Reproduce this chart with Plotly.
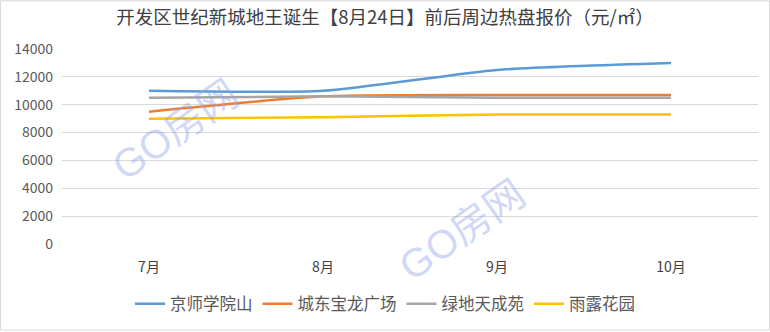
import plotly.graph_objects as go

months = ["7月", "8月", "9月", "10月"]
series_names = ["京师学院山", "城东宝龙广场", "绿地天成苑", "雨露花园"]
jingshi = [11000, 11000, 12500, 13000]
chengdong = [9500, 10600, 10700, 10700]
lvdi = [10500, 10600, 10500, 10500]
yulu = [9000, 9100, 9300, 9300]
y_ticks = [0, 2000, 4000, 6000, 8000, 10000, 12000, 14000]
colors = ["#5B9BD5", "#ED7D31", "#A5A5A5", "#FFC000"]

W, H = 770, 332
L, R, T, B = 62, 12, 49, 87
pw, ph = W - L - R, H - T - B

fig = go.Figure()
for name, vals, c in zip(series_names, [jingshi, chengdong, lvdi, yulu], colors):
    fig.add_trace(go.Scatter(x=months, y=vals, name=name, mode="lines",
                             line=dict(color=c, width=2.5, shape="spline", smoothing=0.6)))

font_cjk = "Noto Sans CJK SC, Microsoft YaHei, sans-serif"
fig.update_layout(
    width=W, height=H,
    margin=dict(l=L, r=R, t=T, b=B),
    paper_bgcolor="white", plot_bgcolor="white",
    font=dict(family=font_cjk, color="#595959", size=13),
    title=dict(text="开发区世纪新城地王诞生【8月24日】前后周边热盘报价（元/㎡）",
               x=0.5, xanchor="center", y=1 - 18 / H, yanchor="middle", yref="container",
               font=dict(size=18.5, color="#404040", family=font_cjk)),
    xaxis=dict(range=[-0.5, 3.5], showgrid=False, showline=False, zeroline=False,
               ticks="", ticklabelstandoff=13, tickfont=dict(size=14, color="#404040")),
    yaxis=dict(range=[0, 14000], tickvals=y_ticks, ticktext=[str(v) for v in y_ticks],
               showgrid=True, gridcolor="#D9D9D9",
               gridwidth=1, zeroline=False, showline=False, ticks="", ticklabelstandoff=8,
               tickfont=dict(size=14, color="#595959")),
    legend=dict(orientation="h", x=(385 - L) / pw, xanchor="center", y=-59 / ph, yanchor="middle",
                font=dict(size=16.5, color="#595959"), itemwidth=30, tracegroupgap=0),
    showlegend=True,
)

# watermark text
for (px, py) in [(175, 130), (462, 231)]:
    fig.add_annotation(text="GO房网", x=(px - L) / pw, y=1 - (py - T) / ph,
                       xref="paper", yref="paper", showarrow=False, textangle=-35,
                       xanchor="center", yanchor="middle",
                       font=dict(size=40, color="rgba(150,165,235,0.45)", family="Liberation Sans, Noto Sans CJK SC"))

# outer border
fig.add_shape(type="rect", xref="paper", yref="paper",
              x0=(0.5 - L) / pw, x1=1 + (R - 0.5) / pw,
              y0=-(B - 0.5) / ph, y1=1 + (T - 0.5) / ph,
              line=dict(color="#D9D9D9", width=1), layer="below")

fig.write_html("out.html")
